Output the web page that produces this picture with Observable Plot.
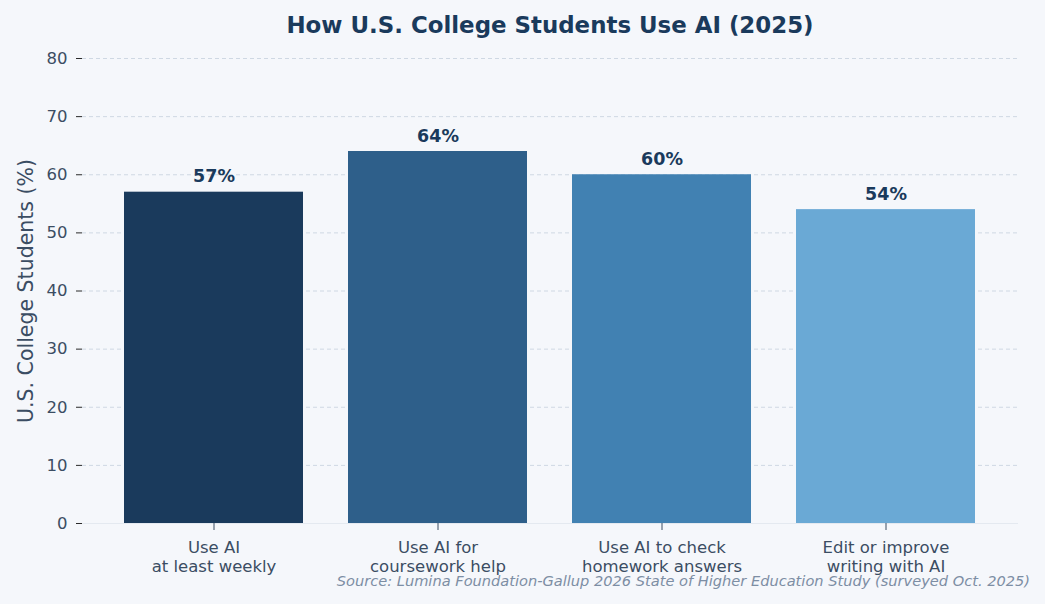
<!DOCTYPE html>
<html>
<head>
<meta charset="utf-8">
<script src="https://cdn.jsdelivr.net/npm/d3@7"></script>
<script src="https://cdn.jsdelivr.net/npm/@observablehq/plot@0.6"></script>
<style>
  html, body { margin: 0; padding: 0; background: #f5f7fb; }
  #wrap { position: relative; width: 1045px; height: 604px; overflow: hidden; font-family: "DejaVu Sans", sans-serif; }
  #title { height: 50px; line-height: 50px; text-align: center; font-weight: bold; font-size: 22.9px; color: #1a3a5c; padding-left: 55px; box-sizing: border-box; }
  #source { position: absolute; right: 15px; top: 572px; line-height: 17px; font-size: 14.6px; font-style: italic; color: #7d8ea4; white-space: nowrap; }
  svg { display: block; overflow: visible; }
</style>
</head>
<body>
<div id="wrap">
  <div id="title">How U.S. College Students Use AI (2025)</div>
  <div id="chart"></div>
  <div id="source">Source: Lumina Foundation-Gallup 2026 State of Higher Education Study (surveyed Oct. 2025)</div>
</div>
<script>
const categories = [
  "Use AI\nat least weekly",
  "Use AI for\ncoursework help",
  "Use AI to check\nhomework answers",
  "Edit or improve\nwriting with AI"
];
const values = [57, 64, 60, 54];
const barColors = ["#1a3a5c", "#2e5f8a", "#4181b2", "#6aa9d5"];
const yTicks = [0, 10, 20, 30, 40, 50, 60, 70, 80];

const data = categories.map((c, i) => ({category: c, value: values[i]}));

const chart = Plot.plot({
  width: 1045,
  height: 554,
  marginLeft: 82,
  marginRight: 27,
  marginTop: 8,
  marginBottom: 81,
  style: {background: "transparent", fontFamily: "DejaVu Sans, sans-serif", color: "#3b4d63"},
  x: {domain: categories, paddingInner: 0.2, paddingOuter: 0.187, label: null},
  y: {domain: [0, 80], label: null},
  color: {type: "ordinal", domain: categories, range: barColors},
  marks: [
    Plot.gridY(yTicks.filter(d => d > 0), {stroke: "#cfd8e3", strokeOpacity: 1, strokeDasharray: "4,3", strokeWidth: 1}),
    Plot.ruleY([0], {stroke: "#e4e9f0", strokeWidth: 1}),
    Plot.barY(data, {x: "category", y: "value", fill: "category"}),
    Plot.text(data, {x: "category", y: "value", text: d => `${d.value}%`, lineAnchor: "bottom", dy: -10, fontSize: 17.5, fontWeight: "bold", fill: "#1a3a5c"}),
    Plot.axisY({ticks: yTicks, tickSize: 6, tickPadding: 9, fontSize: 16.5, fill: "#3b4d63", stroke: "#2a2a2a", label: "U.S. College Students (%)", labelAnchor: "center", labelArrow: "none", labelOffset: 64}),
    Plot.axisX({tickSize: 7, tickPadding: 10, fontSize: 16.5, lineHeight: 1.1, fill: "#3b4d63", stroke: "#3b4d63", label: null})
  ]
});

chart.querySelectorAll("g[aria-label='y-axis label'] text").forEach(t => { t.setAttribute("font-size", "20.5"); t.style.fontSize = "20.5px"; });
document.getElementById("chart").appendChild(chart);
</script>
</body>
</html>
